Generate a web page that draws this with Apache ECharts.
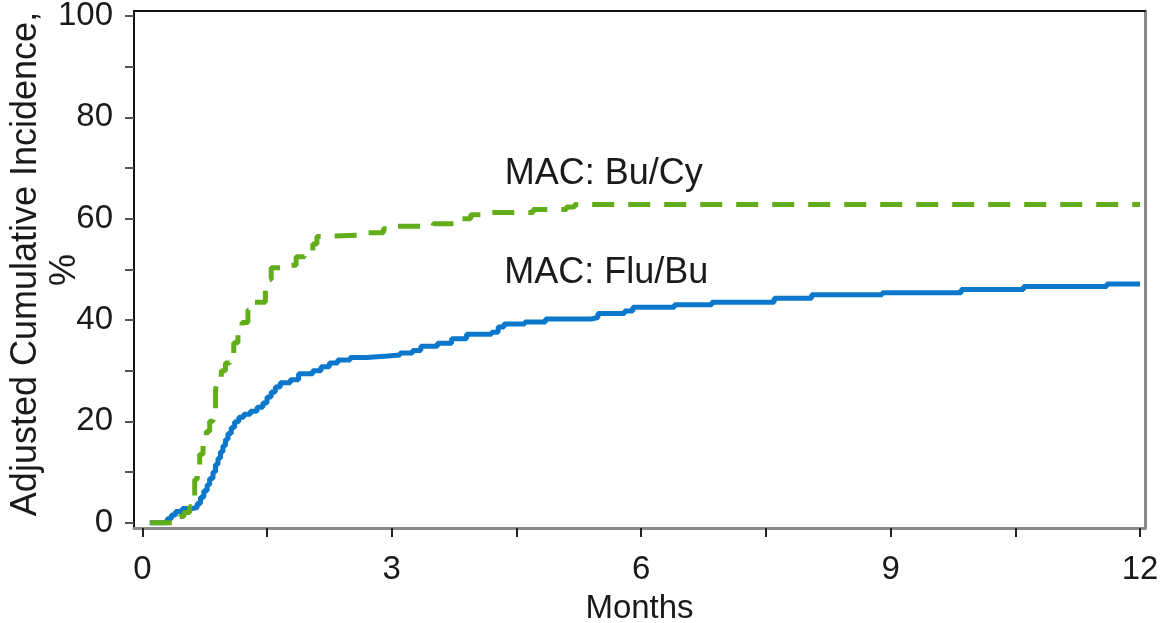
<!DOCTYPE html>
<html>
<head>
<meta charset="utf-8">
<script src="https://cdn.jsdelivr.net/npm/echarts@6/dist/echarts.min.js"></script>
<style>
html,body{margin:0;padding:0;background:#fff;}
#chart{width:1169px;height:623px;}
</style>
</head>
<body>
<div id="chart"></div>
<script>
// ---- data (months, adjusted cumulative incidence %) ----
var flubuMonths = [0.09,0.27,0.30,0.35,0.40,0.48,0.60,0.66,0.70,0.74,0.78,0.81,0.85,0.88,0.91,0.94,0.97,1.00,1.03,1.07,1.11,1.16,1.22,1.30,1.38,1.45,1.50,1.55,1.60,1.66,1.78,1.88,2.05,2.15,2.25,2.35,2.50,2.70,2.95,3.10,3.25,3.35,3.55,3.72,3.90,4.20,4.28,4.35,4.60,4.85,5.40,5.48,5.80,5.90,6.40,6.85,7.60,8.05,8.90,9.85,10.60,11.60,12.00];
var flubuValues = [0,0,0.8,1.5,2.2,2.8,3.0,3.8,5.0,6.3,7.5,8.7,10.0,11.5,12.7,14.0,15.2,16.4,17.6,18.8,19.9,20.8,21.4,22.0,22.8,23.6,24.8,25.8,26.8,27.6,28.2,29.4,30.0,30.8,31.5,32.1,32.6,32.9,33.1,33.5,34.0,34.8,35.4,36.3,37.2,37.6,38.6,39.2,39.6,40.2,40.5,41.3,41.8,42.5,43.0,43.5,44.3,45.0,45.4,46.0,46.6,47.1,47.1];

var bucyMonths = [0.09,0.37,0.45,0.50,0.57,0.60,0.63,0.66,0.69,0.73,0.77,0.81,0.85,0.88,0.90,0.95,1.00,1.05,1.10,1.15,1.20,1.27,1.35,1.48,1.50,1.55,1.75,1.85,1.95,2.05,2.10,2.20,2.70,2.90,3.00,3.50,3.75,3.95,4.20,4.70,5.10,5.20,12.00];
var bucyValues = [0,0,1.2,2.0,3.2,5.0,8.5,11.0,13.5,15.5,18.0,20.0,22.0,26.0,28.5,30.0,31.5,33.0,35.5,37.5,39.5,42.0,43.5,45.5,48.0,50.3,50.8,52.5,53.5,55.0,56.5,56.8,57.2,58.0,58.5,59.0,60.0,60.8,61.2,61.8,62.3,62.8,62.8];

var xTicks = [0,1.5,3,4.5,6,7.5,9,10.5,12];
var xLabels = [0,3,6,9,12];
var yTicks = [0,10,20,30,40,50,60,70,80,90,100];
var yLabels = [0,20,40,60,80,100];

var seriesNames = ['MAC: Flu/Bu','MAC: Bu/Cy'];
var labelPos = [[5.58,49.3],[5.55,68.8]];
var yTitle = ['Adjusted Cumulative Incidence,', '%'];

function pairs(xs, ys){ return xs.map(function(x,i){ return [x, ys[i]]; }); }

var FONT = 'Liberation Sans, Arial, sans-serif';
var chart = echarts.init(document.getElementById('chart'));
chart.setOption({
  animation:false,
  backgroundColor:'#ffffff',
  grid:{left:134,right:24,top:11,bottom:95,containLabel:false,outerBoundsMode:'none'},
  xAxis:[{
    type:'value',min:-0.1,max:12.06,position:'bottom',
    axisLine:{show:true,onZero:false,lineStyle:{color:'#8a8a8a',width:3}},
    axisTick:{show:true,customValues:xTicks,length:9,inside:false,lineStyle:{color:'#222',width:2}},
    axisLabel:{show:true,customValues:xLabels,margin:25,fontSize:33,color:'#1a1a1a',fontFamily:FONT},
    splitLine:{show:false},
    name:'Months',nameLocation:'middle',nameGap:64,
    nameTextStyle:{fontSize:33,color:'#1a1a1a',fontFamily:FONT}
  },{
    type:'value',min:-0.1,max:12.06,position:'top',
    axisLine:{show:true,onZero:false,lineStyle:{color:'#111',width:2}},
    axisTick:{show:false},axisLabel:{show:false},splitLine:{show:false}
  }],
  yAxis:[{
    type:'value',min:-1.05,max:100.99,position:'left',
    axisLine:{show:true,onZero:false,lineStyle:{color:'#111',width:2}},
    axisTick:{show:true,customValues:yTicks,length:9,lineStyle:{color:'#555',width:2}},
    axisLabel:{show:true,customValues:yLabels,margin:21,fontSize:33,color:'#1a1a1a',fontFamily:FONT},
    splitLine:{show:false}
  },{
    type:'value',min:-1.05,max:100.99,position:'right',
    axisLine:{show:true,onZero:false,lineStyle:{color:'#8a8a8a',width:3}},
    axisTick:{show:false},axisLabel:{show:false},splitLine:{show:false}
  }],
  graphic:[{
    type:'text',x:26,y:264,rotation:Math.PI/2,
    style:{text:yTitle[0],fontSize:36,fontFamily:FONT,fill:'#1a1a1a',align:'center',verticalAlign:'middle'}
  },{
    type:'text',x:65,y:270,rotation:Math.PI/2,
    style:{text:yTitle[1],fontSize:36,fontFamily:FONT,fill:'#1a1a1a',align:'center',verticalAlign:'middle'}
  }],
  series:[{
    name:seriesNames[0],type:'line',step:'end',showSymbol:false,
    data:pairs(flubuMonths, flubuValues),
    lineStyle:{color:'#0B78CC',width:5},
    markPoint:{symbolSize:0,data:[{coord:labelPos[0],value:seriesNames[0]}],
      label:{show:true,position:'inside',formatter:seriesNames[0],fontSize:36,color:'#1a1a1a',fontFamily:FONT}}
  },{
    name:seriesNames[1],type:'line',step:'end',showSymbol:false,
    data:pairs(bucyMonths, bucyValues),
    lineStyle:{color:'#62AD1A',width:5,type:[22,14]},
    markPoint:{symbolSize:0,data:[{coord:labelPos[1],value:seriesNames[1]}],
      label:{show:true,position:'inside',formatter:seriesNames[1],fontSize:36,color:'#1a1a1a',fontFamily:FONT}}
  }]
});
</script>
</body>
</html>
